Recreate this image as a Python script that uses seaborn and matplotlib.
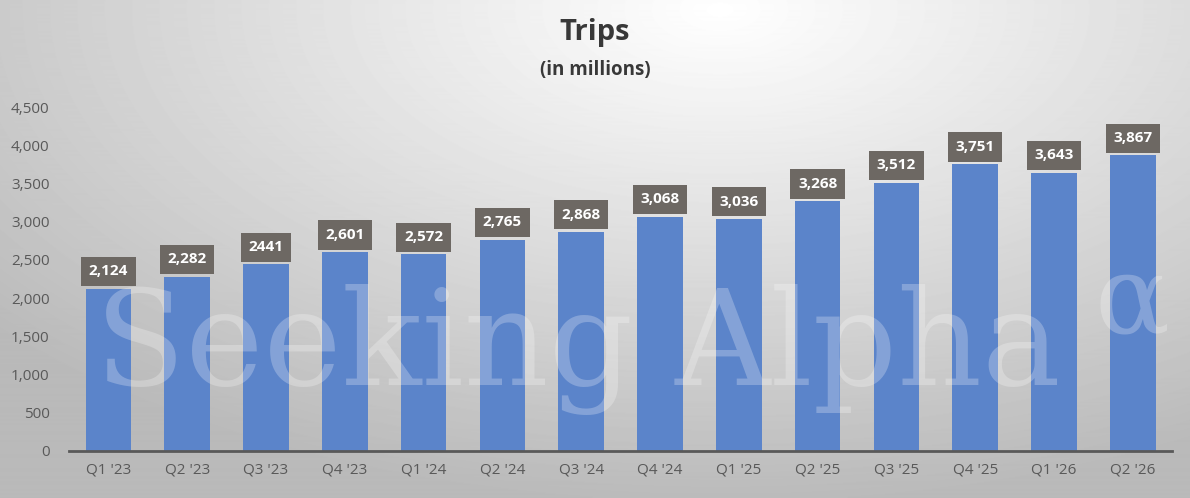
import numpy as np
import pandas as pd
import matplotlib.pyplot as plt
import seaborn as sns

quarters = ["Q1 '23", "Q2 '23", "Q3 '23", "Q4 '23", "Q1 '24", "Q2 '24", "Q3 '24",
            "Q4 '24", "Q1 '25", "Q2 '25", "Q3 '25", "Q4 '25", "Q1 '26", "Q2 '26"]
trips = [2124, 2282, 2441, 2601, 2572, 2765, 2868, 3068, 3036, 3268, 3512, 3751, 3643, 3867]
bar_labels = ["2,124", "2,282", "2441", "2,601", "2,572", "2,765", "2,868",
              "3,068", "3,036", "3,268", "3,512", "3,751", "3,643", "3,867"]

df = pd.DataFrame({"quarter": quarters, "trips": trips})

sns.set_theme(style="white")
plt.rcParams['font.family'] = ['Open Sans', 'DejaVu Sans']

fig = plt.figure(figsize=(11.9, 4.98), dpi=100)

# radial grey background, lightest near top centre-right
bg = fig.add_axes([0, 0, 1, 1], zorder=0)
yy, xx = np.mgrid[0:498, 0:1190]
dist = np.sqrt(((xx - 720) / 1190) ** 2 + ((yy - 10) / 620) ** 2)
shade = np.clip(1.0 - 0.34 * dist, 0.73, 1.0)
bg.imshow(shade, cmap="gray", vmin=0, vmax=1, aspect="auto", extent=[0, 1, 0, 1])
bg.axis("off")

ax = fig.add_axes([0.058, 0.0944, 0.927, 0.6906], zorder=1)
ax.patch.set_alpha(0)

sns.barplot(data=df, x="quarter", y="trips", color="#5b84ca", width=0.58,
            saturation=1, linewidth=0, ax=ax)

ax.set_ylim(0, 4500)
ax.set_xlim(-0.5, len(quarters) - 0.5)
ax.set_yticks(np.arange(0, 4501, 500))
ax.set_yticklabels([f"{v:,}" for v in range(0, 4501, 500)])
ax.tick_params(axis="both", colors="#595959", labelsize=11, length=0)
ax.tick_params(axis="y", pad=14)
ax.tick_params(axis="x", pad=8)
ax.set_xlabel("")
ax.set_ylabel("")
for s in ["top", "right", "left"]:
    ax.spines[s].set_visible(False)
ax.spines["bottom"].set_color("#595959")
ax.spines["bottom"].set_linewidth(2)

for i, (v, lab) in enumerate(zip(trips, bar_labels)):
    ax.text(i, v + 225, lab, ha="center", va="center", color="white",
            fontsize=11, fontweight="bold",
            bbox=dict(boxstyle="square,pad=0.5", fc="#6d6863", ec="none"))

# watermark
fig.text(0.08, 0.227, "Seeking Alpha", fontsize=95, family="DejaVu Serif",
         color="white", alpha=0.25, ha="left", va="baseline", zorder=2)
fig.text(0.92, 0.33, "\u03b1", fontsize=80, family="DejaVu Serif",
         color="white", alpha=0.25, ha="left", va="baseline", zorder=2)

fig.text(0.5, 0.935, "Trips", ha="center", va="center", fontsize=21,
         fontweight="bold", color="#383838")
fig.text(0.5, 0.86, "(in millions)", ha="center", va="center", fontsize=13.5,
         fontweight="bold", color="#383838")

plt.savefig("out.png", dpi=100)
